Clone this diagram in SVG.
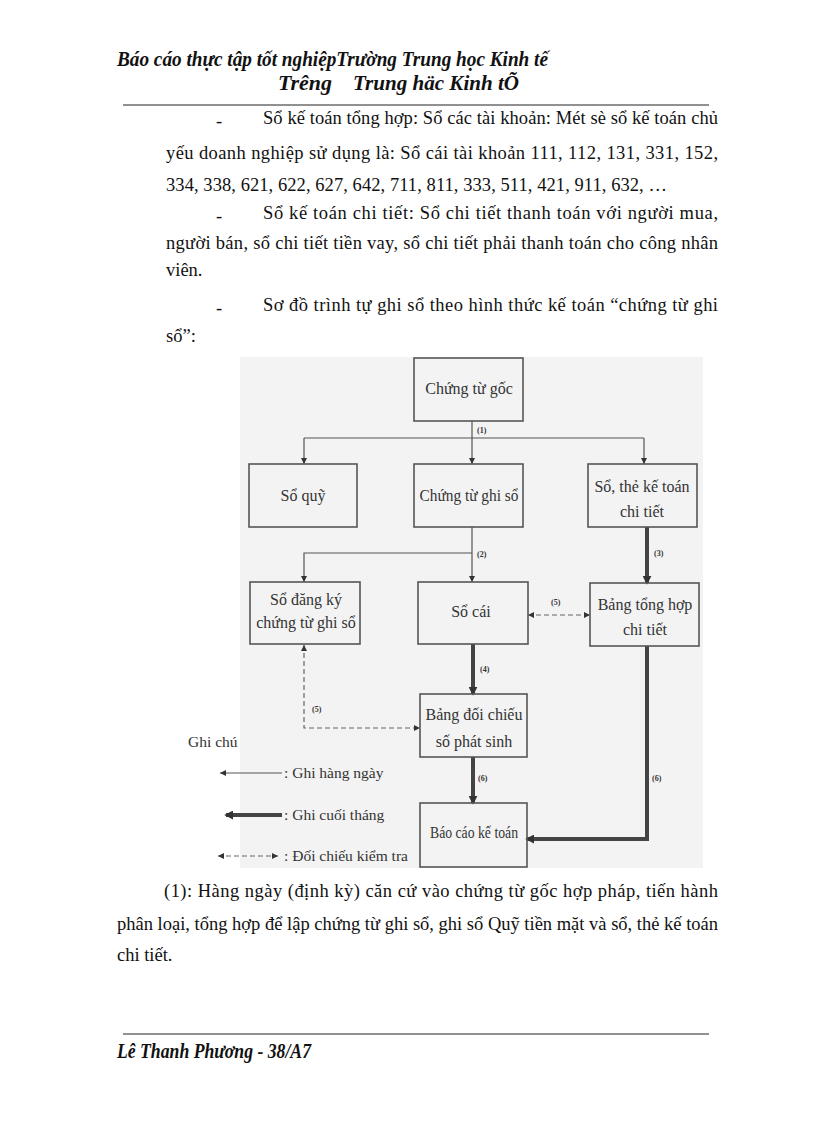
<svg xmlns="http://www.w3.org/2000/svg" width="816" height="1123" viewBox="0 0 816 1123">
<defs>
<style>
.body{font-family:"Liberation Serif","Times New Roman",serif;font-size:18.5px;fill:#111}
.hdr{font-family:"Liberation Serif","Times New Roman",serif;font-size:20px;font-weight:bold;font-style:italic;fill:#111}
.box{fill:none;stroke:#555;stroke-width:1.6}
.bt{font-family:"Liberation Serif","Times New Roman",serif;font-size:16px;fill:#333;text-anchor:middle}
.lg{font-family:"Liberation Serif","Times New Roman",serif;font-size:15.5px;fill:#333}
.lbl{font-family:"Liberation Serif","Times New Roman",serif;font-size:8px;font-weight:bold;fill:#333}
.thin{fill:none;stroke:#555;stroke-width:1.2}
.thick{fill:none;stroke:#444;stroke-width:4}
.dash{fill:none;stroke:#666;stroke-width:1.2;stroke-dasharray:5 3}
</style>
<marker id="a" viewBox="0 0 10 10" refX="10" refY="5" markerWidth="6" markerHeight="6" markerUnits="userSpaceOnUse" orient="auto-start-reverse"><path d="M0,0 L10,5 L0,10 z" fill="#333"/></marker>
<marker id="at" viewBox="0 0 10 10" refX="8" refY="5" markerWidth="9" markerHeight="9" markerUnits="userSpaceOnUse" orient="auto-start-reverse"><path d="M0,0 L10,5 L0,10 z" fill="#333"/></marker>
</defs>
<rect width="816" height="1123" fill="#fff"/>
<g id="header">
<text class="hdr" x="117" y="66" textLength="431" lengthAdjust="spacingAndGlyphs">Báo cáo thực tập tốt nghiệpTrường Trung học Kinh tế</text>
<text class="hdr" x="278" y="90"><tspan textLength="54" lengthAdjust="spacingAndGlyphs">Trêng</tspan><tspan x="353" textLength="166" lengthAdjust="spacingAndGlyphs">Trung häc Kinh tÕ</tspan></text>
<line x1="123" y1="105" x2="709" y2="105" stroke="#222" stroke-width="1"/>
</g>
<g id="body-top">
<text class="body" x="216" y="127">-</text>
<text class="body" x="263" y="124" textLength="455" lengthAdjust="spacing">Sổ kế toán tổng hợp: Sổ các tài khoản: Mét sè sổ kế toán chủ</text>
<text class="body" x="166" y="159" textLength="552" lengthAdjust="spacing">yếu doanh nghiệp  sử dụng là: Sổ cái tài khoản 111, 112, 131, 331, 152,</text>
<text class="body" x="166" y="191" textLength="501" lengthAdjust="spacing">334, 338, 621, 622, 627, 642, 711, 811, 333, 511, 421, 911, 632, …</text>
<text class="body" x="216" y="222">-</text>
<text class="body" x="263" y="219" textLength="455" lengthAdjust="spacing">Sổ kế toán chi tiết: Sổ chi tiết thanh toán với người mua,</text>
<text class="body" x="166" y="249" textLength="552" lengthAdjust="spacing">người bán, sổ chi tiết tiền vay, sổ chi tiết phải thanh toán cho công nhân</text>
<text class="body" x="166" y="276">viên.</text>
<text class="body" x="216" y="314">-</text>
<text class="body" x="263" y="311" textLength="455" lengthAdjust="spacing">Sơ đồ trình tự ghi  sổ theo hình thức kế toán “chứng từ ghi</text>
<text class="body" x="166" y="342">sổ”:</text>
</g>
<rect id="diagram-bg" x="240" y="357" width="463" height="511" fill="#f3f3f3"/>
<g id="connectors">
<path class="thin" d="M472,421 V438"/>
<path class="thin" d="M304,438 H644"/>
<path class="thin" d="M304,438 V464" marker-end="url(#a)"/>
<path class="thin" d="M472,438 V464" marker-end="url(#a)"/>
<path class="thin" d="M644,438 V464" marker-end="url(#a)"/>
<path class="thin" d="M472,527 V582" marker-end="url(#a)"/>
<path class="thin" d="M472,553 H304 V582" marker-end="url(#a)"/>
<path class="thick" d="M647,527 V583" marker-end="url(#at)"/>
<path class="dash" d="M528,615 H590" marker-start="url(#a)" marker-end="url(#a)"/>
<path class="thick" d="M473,644 V694" marker-end="url(#at)"/>
<path class="dash" d="M304,645 V728 H420" marker-start="url(#a)" marker-end="url(#a)"/>
<path class="thick" d="M473,757 V803" marker-end="url(#at)"/>
<path class="thick" d="M647,646 V839 H527" marker-end="url(#at)"/>
<text class="lbl" x="477" y="433">(1)</text>
<text class="lbl" x="477" y="557">(2)</text>
<text class="lbl" x="654" y="556">(3)</text>
<text class="lbl" x="551" y="605">(5)</text>
<text class="lbl" x="480" y="672">(4)</text>
<text class="lbl" x="312" y="712">(5)</text>
<text class="lbl" x="478" y="781">(6)</text>
<text class="lbl" x="652" y="781">(6)</text>
</g>
<g id="n-chungtugoc"><rect class="box" x="414" y="358" width="109" height="63"/><text class="bt" x="469" y="394">Chứng từ gốc</text></g>
<g id="n-soquy"><rect class="box" x="249" y="464" width="108" height="63"/><text class="bt" x="303" y="501">Sổ quỹ</text></g>
<g id="n-chungtughiso"><rect class="box" x="414" y="464" width="109" height="63"/><text class="bt" x="469" y="501" textLength="99" lengthAdjust="spacingAndGlyphs">Chứng từ ghi sổ</text></g>
<g id="n-sothe"><rect class="box" x="588" y="464" width="109" height="63"/><text class="bt" x="642" y="492">Sổ, thẻ kế toán</text><text class="bt" x="642" y="517">chi tiết</text></g>
<g id="n-sodangky"><rect class="box" x="250" y="582" width="110" height="62"/><text class="bt" x="306" y="605">Sổ đăng ký</text><text class="bt" x="306" y="628">chứng từ ghi sổ</text></g>
<g id="n-socai"><rect class="box" x="418" y="582" width="110" height="62"/><text class="bt" x="471" y="617">Sổ cái</text></g>
<g id="n-bangtonghop"><rect class="box" x="590" y="583" width="109" height="63"/><text class="bt" x="645" y="610">Bảng tổng hợp</text><text class="bt" x="645" y="635">chi tiết</text></g>
<g id="n-bangdoichieu"><rect class="box" x="420" y="694" width="107" height="63"/><text class="bt" x="474" y="720">Bảng đối chiếu</text><text class="bt" x="474" y="747">số phát sinh</text></g>
<g id="n-baocao"><rect class="box" x="420" y="803" width="107" height="64"/><text class="bt" x="474" y="838" textLength="88" lengthAdjust="spacingAndGlyphs">Báo cáo kế toán</text></g>
<g id="legend">
<text class="lg" x="188" y="747">Ghi chú</text>
<path class="thin" d="M282,773 H220" marker-end="url(#a)"/>
<text class="lg" x="284" y="778">: Ghi hàng ngày</text>
<path class="thick" d="M282,815 H226" marker-end="url(#at)"/>
<text class="lg" x="284" y="820">: Ghi cuối tháng</text>
<path class="dash" d="M218,856 H278" marker-start="url(#a)" marker-end="url(#a)"/>
<text class="lg" x="284" y="861">: Đối chiếu kiểm tra</text>
</g>
<g id="body-bottom">
<text class="body" x="164" y="897" textLength="554" lengthAdjust="spacing">(1): Hàng ngày (định kỳ) căn cứ vào chứng từ gốc hợp pháp, tiến hành</text>
<text class="body" x="117" y="930" textLength="601" lengthAdjust="spacing">phân loại, tổng hợp để lập chứng từ ghi sổ, ghi sổ Quỹ tiền mặt và sổ, thẻ kế toán</text>
<text class="body" x="117" y="961">chi tiết.</text>
</g>
<g id="footer">
<line x1="123" y1="1034" x2="709" y2="1034" stroke="#222" stroke-width="1"/>
<text class="hdr" x="117" y="1058" textLength="194" lengthAdjust="spacingAndGlyphs">Lê Thanh Phương - 38/A7</text>
</g>
</svg>
